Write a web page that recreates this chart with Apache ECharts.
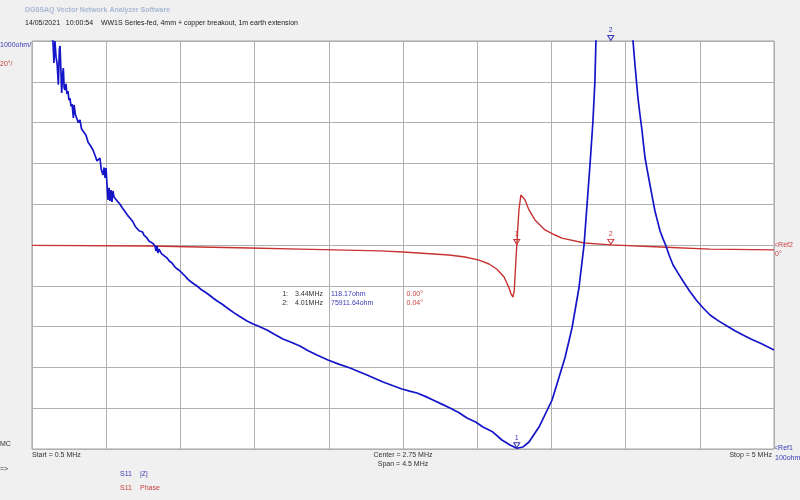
<!DOCTYPE html>
<html><head><meta charset="utf-8">
<script src="https://cdn.jsdelivr.net/npm/echarts@6/dist/echarts.min.js"></script>
<style>html,body{margin:0;padding:0;background:#f0f0f0;}#c{width:800px;height:500px;}</style>
</head><body><div id="c"></div>
<script>
// |Z| trace (MHz, ohm)
var zFreq = [0.50,0.59,0.627,0.633,0.639,0.646,0.652,0.660,0.666,0.670,0.676,0.680,0.685,0.690,0.695,0.700,0.706,0.712,0.718,0.724,0.730,0.737,0.743,0.751,0.755,0.763,0.773,0.781,0.791,0.800,0.809,0.818,0.827,0.840,0.852,0.860,0.870,0.882,0.894,0.903,0.912,0.920,0.931,0.937,0.943,0.949,0.955,0.961,0.967,0.973,0.979,0.985,0.991,0.997,1.006,1.016,1.025,1.034,1.046,1.058,1.067,1.076,1.085,1.094,1.103,1.113,1.125,1.137,1.149,1.161,1.170,1.179,1.188,1.197,1.209,1.221,1.233,1.246,1.252,1.258,1.264,1.270,1.276,1.285,1.294,1.306,1.319,1.334,1.349,1.361,1.373,1.385,1.398,1.413,1.428,1.443,1.458,1.480,1.501,1.525,1.549,1.573,1.598,1.625,1.652,1.676,1.701,1.728,1.755,1.780,1.804,1.838,1.871,1.925,1.975,2.022,2.075,2.125,2.175,2.228,2.295,2.360,2.429,2.480,2.532,2.580,2.629,2.690,2.744,2.790,2.835,2.885,2.932,2.985,3.035,3.090,3.138,3.190,3.235,3.290,3.350,3.399,3.44,3.478,3.514,3.575,3.654,3.732,3.775,3.817,3.848,3.866,3.884,3.902,3.914,3.920,3.96,4.01,4.10,4.130,4.145,4.151,4.157,4.166,4.175,4.187,4.200,4.209,4.218,4.233,4.248,4.263,4.278,4.294,4.309,4.327,4.345,4.366,4.388,4.418,4.448,4.490,4.533,4.572,4.612,4.663,4.715,4.763,4.812,4.863,4.915,4.958,5.0];
var zOhm = [13500,10400,10100,9561,10100,9700,9561,9030,9900,9977,9300,8826,9250,9438,8950,8899,9050,8800,8870,8650,8703,8500,8556,8213,8532,8300,8287,8100,8164,7950,7894,7900,7796,7620,7551,7560,7428,7300,7159,7150,7232,6950,6816,7000,6742,6987,6571,6203,6500,6179,6448,6154,6424,6280,6300,6180,6200,6100,6020,6007,5900,5933,5800,5762,5720,5664,5560,5566,5450,5419,5420,5340,5320,5272,5200,5174,5140,5076,4950,5080,4904,5000,4953,4890,4855,4820,4781,4700,4659,4590,4536,4490,4463,4400,4340,4270,4218,4150,4095,4010,3948,3880,3801,3720,3654,3580,3507,3430,3360,3300,3237,3170,3115,3017,2900,2796,2710,2625,2510,2404,2281,2180,2085,2000,1914,1830,1742,1650,1571,1520,1473,1390,1301,1200,1105,990,860,760,640,530,321,198,118.17,150,272,639,1301,2330,3066,4046,5100,6080,7061,8139,9120,10100,20000,75911.64,16000,11500,10100,9800,9512,9100,8703,8300,7894,7550,7232,6900,6571,6250,5933,5680,5443,5250,5076,4830,4610,4410,4218,3960,3727,3550,3384,3240,3115,3000,2894,2790,2698,2610,2527];
// Phase trace (MHz, degrees)
var pFreq = [0.5,1.216,1.822,2.125,2.611,2.750,3.029,3.126,3.211,3.272,3.320,3.363,3.393,3.405,3.417,3.425,3.44,3.453,3.465,3.490,3.514,3.550,3.611,3.672,3.714,3.85,4.01,4.309,4.612,5.0];
var pDeg = [-0.2,-0.5,-1.5,-2.0,-2.9,-3.4,-4.9,-5.9,-7.4,-9.3,-11.9,-15.7,-21,-24,-25.5,-22,0,17.2,24.5,22.1,17.2,12.3,7.4,4.9,3.4,1.0,0.04,-1,-2,-2.4];
// markers
var markerNames = ['1','2'];
var markerFreq = [3.44, 4.01];
var markerZ = [118.17, 75911.64];
var markerPhase = [0.00, 0.04];
// scale settings
var fStart = 0.5, fStop = 5, zRef = 100, zDiv = 1000, pDiv = 20, nDiv = 10;

var BLUE = '#1414c8', RED = '#c83232', TBLUE = '#3a3ab4', TRED = '#c84040';
var FONT = 'Liberation Sans';
function textAt(x, y, s, color, opts) {
  opts = opts || {};
  return {type:'text', x:x, y:y, style:{text:s, fill:color,
    font:(opts.bold?'bold ':'') + (opts.size||7) + 'px "' + FONT + '"',
    align: opts.align || 'left', verticalAlign:'middle'}};
}
var zTop = zRef + zDiv * nDiv;
var graphics = [
  textAt(25, 10, 'DG8SAQ Vector Network Analyzer Software', '#a8b8d4', {bold:true}),
  textAt(25, 23, '14/05/2021   10:00:54    WW1S Series-fed, 4mm + copper breakout, 1m earth extension', '#202020'),
  textAt(0, 45, zDiv + 'ohm/', TBLUE),
  textAt(0, 64, pDiv + '°/', TRED),
  textAt(0, 444, 'MC', '#303030'),
  textAt(0, 469, '=>', '#303030'),
  textAt(32, 455, 'Start = ' + fStart + ' MHz', '#303030'),
  textAt(403, 455, 'Center = ' + ((fStart + fStop) / 2) + ' MHz', '#303030', {align:'center'}),
  textAt(403, 464, 'Span = ' + (fStop - fStart) + ' MHz', '#303030', {align:'center'}),
  textAt(772, 455, 'Stop = ' + fStop + ' MHz', '#303030', {align:'right'}),
  textAt(774, 448, '<Ref1', TBLUE),
  textAt(775, 458, zRef + 'ohm', TBLUE),
  textAt(774, 245, '<Ref2', TRED),
  textAt(775, 254, '0°', TRED),
  textAt(120, 474, 'S11', TBLUE), textAt(140, 474, '|Z|', TBLUE),
  textAt(120, 488, 'S11', TRED), textAt(140, 488, 'Phase', TRED)
];
for (var i = 0; i < markerNames.length; i++) {
  var yy = 294 + i * 9;
  graphics.push(textAt(288, yy, markerNames[i] + ':', '#303030', {align:'right'}));
  graphics.push(textAt(295, yy, markerFreq[i].toFixed(2) + 'MHz', '#303030'));
  graphics.push(textAt(331, yy, markerZ[i].toFixed(2) + 'ohm', TBLUE));
  graphics.push(textAt(423, yy, markerPhase[i].toFixed(2) + '°', TRED, {align:'right'}));
}

function markData(valuesArr, clampMax) {
  return markerNames.map(function (n, i) {
    var v = valuesArr[i];
    if (clampMax != null && v > clampMax) v = clampMax;
    return {name:n, coord:[markerFreq[i], v]};
  });
}

var chart = echarts.init(document.getElementById('c'));
chart.setOption({
  backgroundColor:'#f0f0f0',
  animation:false,
  grid:{left:32, top:41, width:742, height:408, show:true, backgroundColor:'#ffffff', borderColor:'#a0a0a0', borderWidth:1},
  xAxis:[
    {type:'value', min:fStart, max:fStop, show:false, splitLine:{show:false}},
    {type:'value', min:0, max:nDiv, interval:1, axisLine:{show:false}, axisTick:{show:false}, axisLabel:{show:false},
      splitLine:{show:true, lineStyle:{color:'#b0b0b0', width:1}}}
  ],
  yAxis:[
    {type:'value', min:zRef, max:zTop, show:false, splitLine:{show:false}},
    {type:'value', min:-pDiv * nDiv / 2, max:pDiv * nDiv / 2, show:false, splitLine:{show:false}},
    {type:'value', min:0, max:nDiv, interval:1, axisLine:{show:false}, axisTick:{show:false}, axisLabel:{show:false},
      splitLine:{show:true, lineStyle:{color:'#b0b0b0', width:1}}}
  ],
  series:[
    {type:'line', xAxisIndex:0, yAxisIndex:1, showSymbol:false, clip:true,
      data: pFreq.map(function (f, i) { return [f, pDeg[i]]; }),
      lineStyle:{color:RED, width:1.4},
      markPoint:{symbol:'triangle', symbolSize:[6,5], symbolRotate:180, symbolOffset:[0,-3],
        itemStyle:{color:'rgba(255,255,255,0)', borderColor:RED, borderWidth:1},
        label:{show:true, position:'top', distance:1, formatter:'{b}', color:TRED, fontSize:7, fontFamily:FONT},
        data: markData(markerPhase)}
    },
    {type:'line', xAxisIndex:0, yAxisIndex:0, showSymbol:false, clip:true,
      data: zFreq.map(function (f, i) { return [f, zOhm[i]]; }),
      lineStyle:{color:BLUE, width:1.7},
      markPoint:{symbol:'triangle', symbolSize:[6,5], symbolRotate:180, symbolOffset:[0,-3],
        itemStyle:{color:'rgba(255,255,255,0)', borderColor:TBLUE, borderWidth:1},
        label:{show:true, position:'top', distance:1, formatter:'{b}', color:TBLUE, fontSize:7, fontFamily:FONT},
        data: markData(markerZ, zTop)}
    },
    {type:'line', xAxisIndex:1, yAxisIndex:2, data:[], silent:true}
  ],
  graphic: graphics
});
</script>
</body></html>
